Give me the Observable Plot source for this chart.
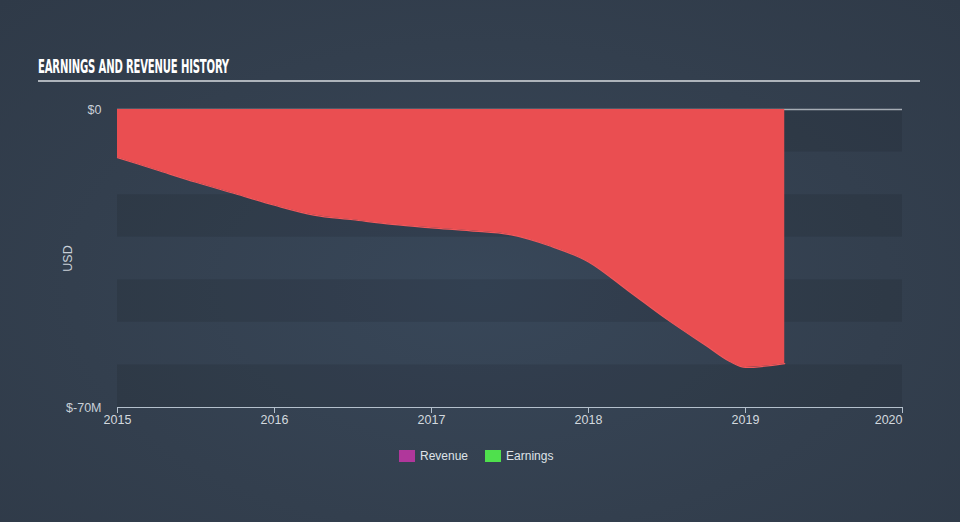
<!DOCTYPE html>
<html>
<head>
<meta charset="utf-8">
<script src="https://cdn.jsdelivr.net/npm/d3@7"></script>
<script src="https://cdn.jsdelivr.net/npm/@observablehq/plot@0.6"></script>
<style>
  html, body { margin: 0; padding: 0; }
  body {
    width: 960px; height: 522px; overflow: hidden; position: relative;
    background: radial-gradient(ellipse at 50% 55%, #384759 0%, #333f4e 60%, #2f3a48 100%);
    font-family: "Liberation Sans", Arial, sans-serif;
  }
  #title {
    position: absolute; left: 38px; top: 56px;
    color: #ffffff; font-family: "Liberation Sans Narrow", "DejaVu Sans Condensed", sans-serif;
    font-weight: bold; font-size: 19px; line-height: 20px; white-space: nowrap;
    transform-origin: 0 0; letter-spacing: -0.3px;
  }
  #rule { position: absolute; left: 38px; top: 80px; width: 882px; height: 2px; background: #aeb4bb; }
  #chart { position: absolute; left: 0; top: 0; }
  #legend {
    position: absolute; top: 449px; left: 399px; display: flex; align-items: center;
    color: #dfe3e8; font-size: 12px; font-family: "Liberation Sans", Arial, sans-serif;
  }
  #legend .sw { width: 16px; height: 12px; display: inline-block; margin-right: 5px; }
  #legend .item { display: flex; align-items: center; margin-right: 17px; }
</style>
</head>
<body>
<div id="title">EARNINGS AND REVENUE HISTORY</div>
<div id="rule"></div>
<div id="chart"></div>
<div id="legend"></div>
<script>
// Data (USD millions)
const earnYears = [2015.0, 2015.25, 2015.5, 2015.75, 2016.0, 2016.25, 2016.5, 2016.75, 2017.0, 2017.25, 2017.5, 2017.75, 2018.0, 2018.25, 2018.5, 2018.75, 2018.9, 2019.0, 2019.25];
const earnValues = [-11.3, -14.2, -17.1, -19.8, -22.5, -24.8, -25.9, -27.0, -27.8, -28.5, -29.4, -32.0, -35.8, -42.5, -49.3, -55.5, -59.2, -60.6, -59.7];
const xTicks = [2015, 2016, 2017, 2018, 2019];
const xLastTick = [2020];
const yTicks = [0, -70];
const bandStarts = [0, -20, -40, -60];
const legendNames = ["Revenue", "Earnings"];
const legendColors = ["#b0379b", "#4fe04d"];

const earnings = earnYears.map((x, i) => ({x, y: earnValues[i]}));
const bands = bandStarts.map(s => ({y1: s, y2: s - 10}));

const chart = Plot.plot({
  width: 960,
  height: 522,
  marginTop: 109,
  marginBottom: 115,
  marginLeft: 117,
  marginRight: 58,
  style: {background: "transparent", color: "#c9d0d8", fontSize: "12.5px", fontFamily: "Liberation Sans, Arial, sans-serif"},
  x: {domain: [2015, 2020]},
  y: {domain: [-70, 0]},
  marks: [
    Plot.rect(bands, {x1: 2015, x2: 2020, y1: "y1", y2: "y2", fill: "#000", fillOpacity: 0.09}),
    Plot.ruleY([0], {stroke: "#a6adb5", strokeWidth: 1.5}),
    Plot.areaY(earnings, {x: "x", y: "y", curve: "monotone-x", fill: "#ea4e51"}),
    Plot.line(earnings, {x: "x", y: "y", curve: "monotone-x", stroke: "#f2585b", strokeWidth: 1.2}),
    Plot.ruleY([-70], {stroke: "#b4c0cc", strokeWidth: 1.2}),
    Plot.axisX({ticks: xTicks, tickFormat: d => String(d), tickSize: 6, tickPadding: 2, stroke: "#b4c0cc", label: null, fill: "#d3d9df"}),
    Plot.axisX({ticks: xLastTick, tickFormat: d => String(d), tickSize: 6, tickPadding: 2, stroke: "#b4c0cc", label: null, fill: "#d3d9df", textAnchor: "end"}),
    Plot.axisY({ticks: yTicks, tickFormat: d => d === 0 ? "$0" : `$${d}M`, tickSize: 0, tickPadding: 16, label: "USD", labelAnchor: "center", labelArrow: "none", labelOffset: 54, fill: "#c9d0d8"})
  ]
});
document.getElementById("chart").appendChild(chart);

const legend = document.getElementById("legend");
legendNames.forEach((n, i) => {
  const it = document.createElement("div");
  it.className = "item";
  it.innerHTML = `<span class="sw" style="background:${legendColors[i]}"></span><span>${n}</span>`;
  legend.appendChild(it);
});

// fit title width to reference
const t = document.getElementById("title");
const w = t.getBoundingClientRect().width;
t.style.transform = `scaleX(${191 / w})`;
</script>
</body>
</html>
